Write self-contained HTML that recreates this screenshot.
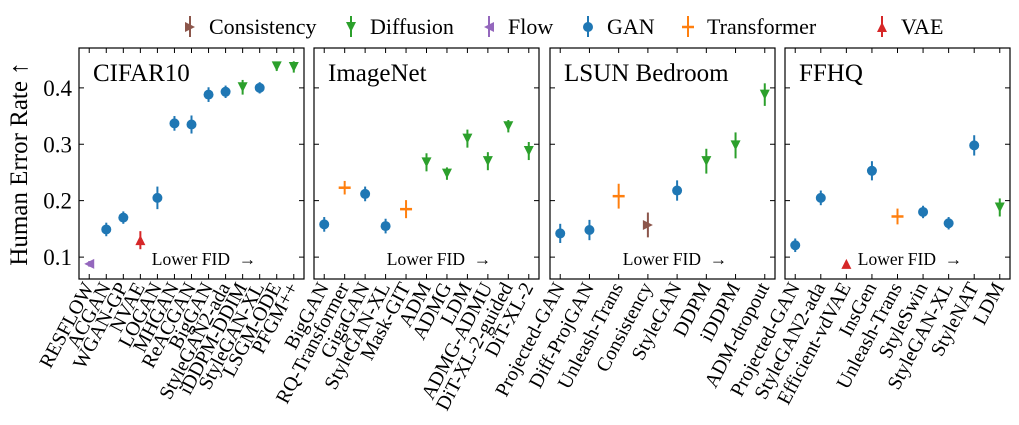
<!DOCTYPE html>
<html><head><meta charset="utf-8"><style>
html,body{margin:0;padding:0;background:#fff;}
svg{display:block;font-family:"Liberation Serif","DejaVu Serif",serif;}
</style></head><body>
<svg id="chart" width="1019" height="425" viewBox="0 0 1019 425" xmlns="http://www.w3.org/2000/svg">
<g id="legend"></g>
<text transform="translate(27,164) rotate(-90)" text-anchor="middle" font-size="25" fill="#000">Human Error Rate ↑</text>
<g id="panels"></g>
</svg>
<script>
const typeNames = ["Consistency","Diffusion","Flow","GAN","Transformer","VAE"];
const typeColors = {GAN:"#1f77b4",Transformer:"#ff7f0e",Diffusion:"#2ca02c",VAE:"#d62728",Flow:"#9467bd",Consistency:"#8c564b"};
const yTicks = [0.1,0.2,0.3,0.4];

const cifarNames = ["RESFLOW","ACGAN","WGAN-GP","NVAE","LOGAN","MHGAN","ReACGAN","BigGAN","StyleGAN2-ada","iDDPM-DDIM","StyleGAN-XL","LSGM-ODE","PFGM++"];
const cifarTypes = ["Flow","GAN","GAN","VAE","GAN","GAN","GAN","GAN","GAN","Diffusion","GAN","Diffusion","Diffusion"];
const cifarVals = [0.088,0.149,0.170,0.130,0.205,0.337,0.335,0.388,0.393,0.401,0.400,0.438,0.437];
const cifarErr = [0.005,0.012,0.011,0.016,0.020,0.013,0.016,0.013,0.011,0.013,0.010,0.008,0.010];

const imagenetNames = ["BigGAN","RQ-Transformer","GigaGAN","StyleGAN-XL","Mask-GIT","ADM","ADMG","LDM","ADMG-ADMU","DiT-XL-2-guided","DiT-XL-2"];
const imagenetTypes = ["GAN","Transformer","GAN","GAN","Transformer","Diffusion","Diffusion","Diffusion","Diffusion","Diffusion","Diffusion"];
const imagenetVals = [0.158,0.223,0.212,0.155,0.185,0.268,0.248,0.310,0.270,0.332,0.288];
const imagenetErr = [0.013,0.012,0.013,0.013,0.016,0.016,0.011,0.016,0.016,0.011,0.016];

const lsunNames = ["Projected-GAN","Diff-ProjGAN","Unleash-Trans","Consistency","StyleGAN","DDPM","iDDPM","ADM-dropout"];
const lsunTypes = ["GAN","GAN","Transformer","Consistency","GAN","Diffusion","Diffusion","Diffusion"];
const lsunVals = [0.142,0.148,0.208,0.157,0.218,0.270,0.298,0.388];
const lsunErr = [0.017,0.018,0.022,0.022,0.018,0.022,0.023,0.020];

const ffhqNames = ["Projected-GAN","StyleGAN2-ada","Efficient-vdVAE","InsGen","Unleash-Trans","StyleSwin","StyleGAN-XL","StyleNAT","LDM"];
const ffhqTypes = ["GAN","GAN","VAE","GAN","Transformer","GAN","GAN","GAN","Diffusion"];
const ffhqVals = [0.121,0.205,0.088,0.253,0.172,0.180,0.160,0.298,0.188];
const ffhqErr = [0.012,0.013,0.004,0.017,0.014,0.011,0.011,0.018,0.016];

const panelTitles = ["CIFAR10","ImageNet","LSUN Bedroom","FFHQ"];
const NS="http://www.w3.org/2000/svg";
function mk(tag,attrs,parent){const e=document.createElementNS(NS,tag);for(const k in attrs)e.setAttribute(k,attrs[k]);if(parent)parent.appendChild(e);return e;}

const plotTop=48,plotBottom=279,yMin=0.0612,yMax=0.4706;
function yScale(v){return plotTop+(yMax-v)/(yMax-yMin)*(plotBottom-plotTop);}

function marker(g,type,x,y){
  const c=typeColors[type];let e;
  if(type==="GAN"){e=mk("circle",{cx:x,cy:y,r:5,fill:c},g);}
  else if(type==="Diffusion"){e=mk("polygon",{points:`${x-5},${y-5} ${x+5},${y-5} ${x},${y+5}`,fill:c},g);}
  else if(type==="VAE"){e=mk("polygon",{points:`${x-5},${y+5} ${x+5},${y+5} ${x},${y-5}`,fill:c},g);}
  else if(type==="Flow"){e=mk("polygon",{points:`${x+5},${y-5} ${x+5},${y+5} ${x-5},${y}`,fill:c},g);}
  else if(type==="Consistency"){e=mk("polygon",{points:`${x-5},${y-5} ${x-5},${y+5} ${x+5},${y}`,fill:c},g);}
  else {e=mk("path",{d:`M${x-6},${y}H${x+6}`,stroke:c,"stroke-width":2.5},g);}
  return e;
}

const panelsData=[
  [cifarNames,cifarTypes,cifarVals,cifarErr],
  [imagenetNames,imagenetTypes,imagenetVals,imagenetErr],
  [lsunNames,lsunTypes,lsunVals,lsunErr],
  [ffhqNames,ffhqTypes,ffhqVals,ffhqErr]];
const panelLeft=[79,314,550,785], panelW=225;
const root=document.getElementById("panels");
panelsData.forEach((pd,pi)=>{
  const [names,types,vals,errs]=pd;
  const n=names.length, L=panelLeft[pi];
  const xMin=-0.05*(n-1), xMax=(n-1)*1.05;
  const xScale=i=>L+(i-xMin)/(xMax-xMin)*panelW;
  const g=mk("g",{},root);
  
  
  const frame=mk("rect",{x:L,y:plotTop,width:panelW,height:plotBottom-plotTop,fill:"none",stroke:"#000","stroke-width":1.2},g);
  
  
  yTicks.forEach(t=>{
    const y=yScale(t);
    mk("path",{d:`M${L},${y}h5M${L+panelW},${y}h-5`,stroke:"#000","stroke-width":1},g);
    if(pi===0){const tl=mk("text",{x:L-7,y:y+8,"text-anchor":"end","font-size":23},g);tl.textContent=t.toFixed(1);
      
      }
  });
  const title=mk("text",{x:L+14,y:plotTop+33,"font-size":25},g);title.textContent=panelTitles[pi];
  
  
  const note=mk("text",{x:L+125,y:265,"text-anchor":"middle","font-size":17.5},g);note.textContent="Lower FID\u00a0\u00a0→";
  
  
  names.forEach((nm,i)=>{
    const x=xScale(i);
    mk("path",{d:`M${x},${plotTop}v5M${x},${plotBottom}v-5`,stroke:"#000","stroke-width":1},g);
    const lb=mk("text",{transform:`translate(${x+5},${plotBottom+8}) rotate(-62)`,"text-anchor":"end","font-size":20},g);lb.textContent=nm;
    
    
    const pt=mk("g",{},g);
    
    
    const c=typeColors[types[i]];
    mk("path",{d:`M${x},${yScale(vals[i]+errs[i])}V${yScale(vals[i]-errs[i])}`,stroke:c,"stroke-width":2},pt);
    marker(pt,types[i],x,yScale(vals[i]));
  });
});

const legendX=[190,351,489,588,688,882];
const lg=document.getElementById("legend");
typeNames.forEach((t,i)=>{
  const g=mk("g",{},lg);
  
  
  const x=legendX[i],y=27;
  mk("path",{d:`M${x},${y-11}V${y+10}`,stroke:typeColors[t],"stroke-width":2},g);
  marker(g,t,x,y);
  const tx=mk("text",{x:x+19,y:y+7,"font-size":22},g);tx.textContent=t;
});
</script>
</body></html>
